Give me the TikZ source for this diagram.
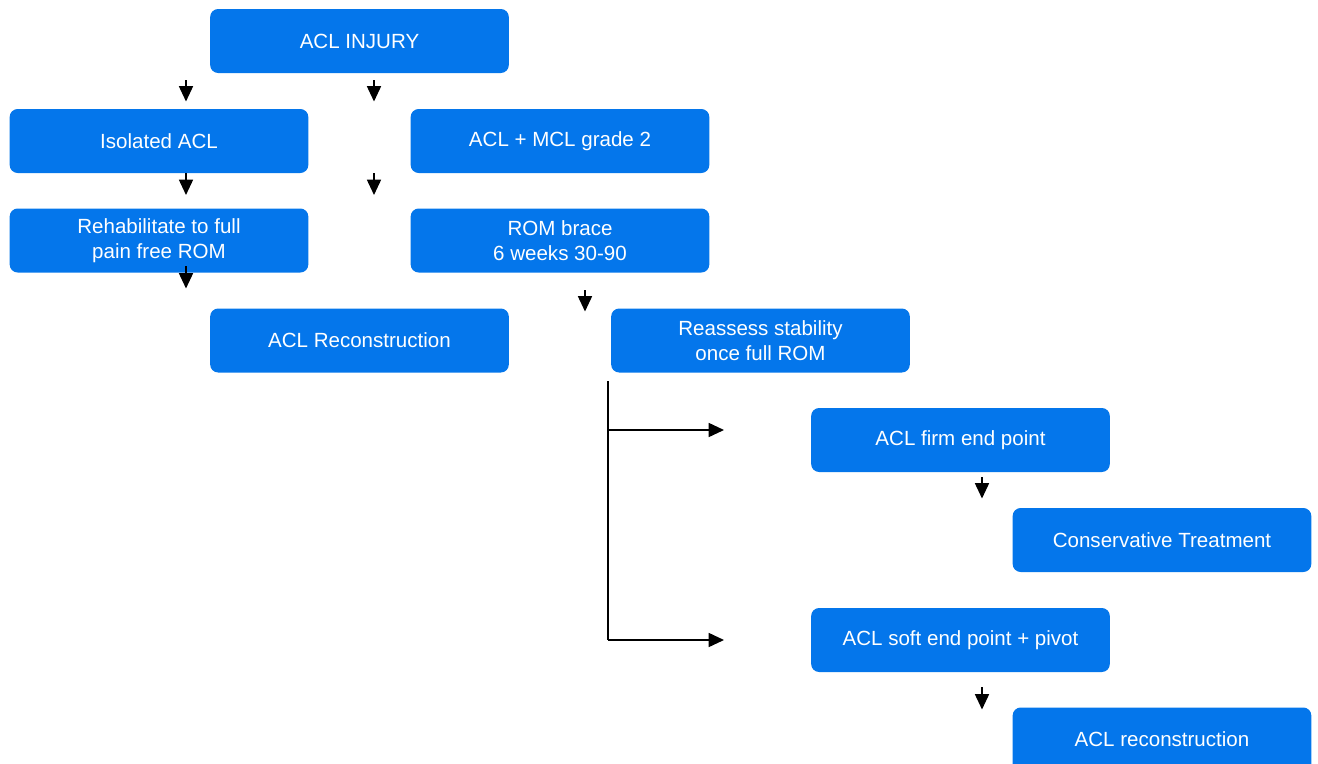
\documentclass[tikz,border=0pt]{standalone}
\usepackage{fontspec}
\setmainfont{Liberation Sans}
\usetikzlibrary{arrows.meta}
\definecolor{boxblue}{RGB}{4,118,235}
\tikzset{
  box/.style={fill=boxblue, draw=none, rounded corners=6pt, minimum width=224pt, minimum height=48pt,
    text=white, align=center, inner sep=0pt, font=\fontsize{15.4pt}{18.75pt}\selectfont},
  arr/.style={line width=1.2pt, -{Triangle[width=10.5pt,length=11.5pt]}},
  conn/.style={line width=1.2pt}
}
\begin{document}
\begin{tikzpicture}[x=0.75pt,y=-0.75pt]
\useasboundingbox (0,0) rectangle (1318,764);
\begin{scope}
\clip (0,0) rectangle (1318,764);
\node[box] (inj) at (359.5,41) {ACL INJURY};
\node[box] (iso) at (159,141) {Isolated ACL};
\node[box] (mcl) at (560,141) {ACL + MCL grade 2};
\node[box] (reh) at (159,240.5) {Rehabilitate to full\\ pain free ROM};
\node[box] (rom) at (560,240.5) {ROM brace\\6 weeks 30-90};
\node[box] (rec) at (359.5,340.5) {ACL Reconstruction};
\node[box] (rea) at (760.5,340.5) {Reassess stability\\once full ROM};
\node[box] (firm) at (960.5,440) {ACL firm end point};
\node[box] (cons) at (1162,540) {Conservative Treatment};
\node[box] (soft) at (960.5,640) {ACL soft end point + pivot};
\node[box] (rec2) at (1162,739.5) {ACL reconstruction};
\end{scope}
% free-standing arrows
\coordinate (a1s) at (186,80);  \coordinate (a1e) at (186,101.5);
\coordinate (a2s) at (374,80);  \coordinate (a2e) at (374,101.5);
\coordinate (a3s) at (186,173); \coordinate (a3e) at (186,195);
\coordinate (a4s) at (374,173); \coordinate (a4e) at (374,195);
\coordinate (a5s) at (186,266); \coordinate (a5e) at (186,288.5);
\coordinate (a6s) at (585,290); \coordinate (a6e) at (585,311.5);
\coordinate (a7s) at (982,477); \coordinate (a7e) at (982,498.5);
\coordinate (a8s) at (982,687); \coordinate (a8e) at (982,709.5);
\foreach \i in {1,...,8} \draw[arr] (a\i s) -- (a\i e);
% branch
\coordinate (vt) at (608,381);
\coordinate (vm) at (608,430);
\coordinate (vb) at (608,640);
\coordinate (hm) at (724,430);
\coordinate (hb) at (724,640);
\draw[conn] (vt) -- (vb);
\draw[arr] (vm) -- (hm);
\draw[arr] (vb) -- (hb);
\end{tikzpicture}
\end{document}
